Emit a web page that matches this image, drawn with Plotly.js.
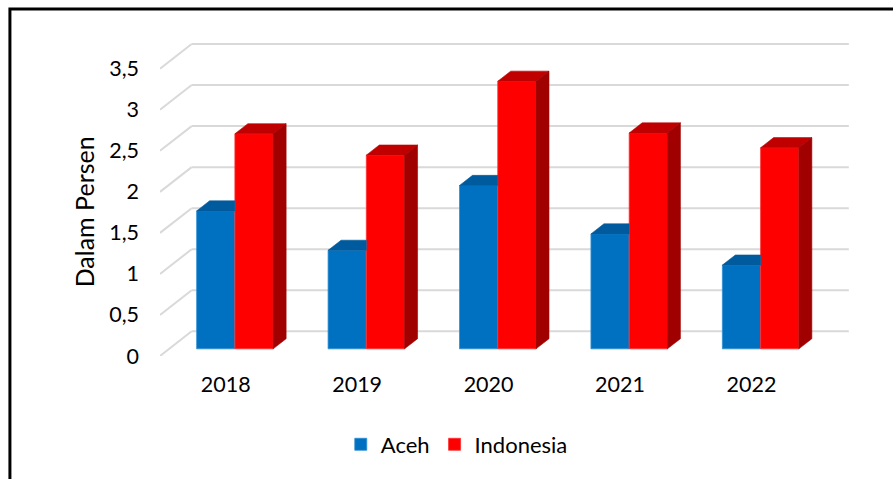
<!DOCTYPE html>
<html>
<head>
<meta charset="utf-8">
<script src="https://cdn.plot.ly/plotly-3.0.1.min.js"></script>
<style>html,body{margin:0;padding:0;background:#fff;}#chart{width:893px;height:479px;}</style>
</head>
<body>
<div id="chart"></div>
<script>
// ---- data ----
const years = ['2018', '2019', '2020', '2021', '2022'];
const aceh = [1.68, 1.20, 1.99, 1.40, 1.02];
const indonesia = [2.62, 2.36, 3.26, 2.63, 2.45];
const yTickVals = [0, 0.5, 1, 1.5, 2, 2.5, 3, 3.5];
const yTickText = ['0', '0,5', '1', '1,5', '2', '2,5', '3', '3,5'];
const yTitle = 'Dalam Persen';

// ---- oblique 3D projection settings (styling) ----
const KX = 0.241, KY = 0.301;   // full wall depth shift in axis units
const Z1 = 0.29, Z2 = 0.70;     // bar front / back depth
const W = 0.291;                // bar width
const FONT = 'Lato, "Open Sans", sans-serif';

const idx = years.map((_, i) => i);
const fx = Z1 * KX, fy = Z1 * KY;
const dx = (Z2 - Z1) * KX, dy = (Z2 - Z1) * KY;

const traces = [];
// front faces as real bar traces
traces.push({
  type: 'bar', name: 'Aceh', x: idx.map(i => i + fx), y: aceh, base: fy,
  width: W, offset: -W, marker: {color: '#0070c0', line: {width: 0.8, color: '#2f8fd6'}},
  hoverinfo: 'skip'
});
traces.push({
  type: 'bar', name: 'Indonesia', x: idx.map(i => i + fx), y: indonesia, base: fy,
  width: W, offset: 0, marker: {color: '#ff0000', line: {width: 0.8, color: '#ff3030'}},
  hoverinfo: 'skip'
});

function poly(xs, ys, color) {
  return {type: 'scatter', mode: 'lines', x: xs.concat([xs[0]]), y: ys.concat([ys[0]]),
    fill: 'toself', fillcolor: color, line: {color: color, width: 0.6},
    hoverinfo: 'skip', showlegend: false};
}
// top faces of Aceh (clipped where Indonesia front face covers)
idx.forEach(i => {
  const v = aceh[i] + fy;
  const x0 = i + fx - W, x1 = i + fx;
  traces.push(poly([x0, x1, x1, x0 + dx], [v, v, v + dy, v + dy], '#005a9e'));
});
// top + side faces of Indonesia
idx.forEach(i => {
  const v = indonesia[i] + fy;
  const x0 = i + fx, x1 = i + fx + W;
  traces.push(poly([x0, x1, x1 + dx, x0 + dx], [v, v, v + dy, v + dy], '#c00000'));
  traces.push(poly([x1, x1 + dx, x1 + dx, x1], [fy, fy + dy, v + dy, v], '#a00000'));
});

// gridlines: back wall lines + left-wall diagonals
const shapes = [];
const xL = -0.5, xR = 4.5;
yTickVals.forEach(v => {
  shapes.push({type: 'line', xref: 'x', yref: 'y', layer: 'below',
    x0: xL + KX, x1: xR + KX, y0: v + KY, y1: v + KY, line: {color: '#d9d9d9', width: 2}});
  shapes.push({type: 'line', xref: 'x', yref: 'y', layer: 'below',
    x0: xL, x1: xL + KX, y0: v, y1: v + KY, line: {color: '#d9d9d9', width: 2}});
});
// outer chart border
shapes.push({type: 'rect', xref: 'paper', yref: 'paper', layer: 'above',
  x0: -0.2175, x1: 1.08, y0: -0.42, y1: 1.098, line: {color: '#000', width: 3}});

const layout = {
  width: 893, height: 479,
  margin: {l: 160, r: 43, t: 40, b: 123},
  paper_bgcolor: '#fff', plot_bgcolor: '#fff',
  barmode: 'overlay',
  font: {family: FONT, size: 21, color: '#000'},
  xaxis: {
    range: [-0.5, 4.75], tickvals: idx, ticktext: years,
    showgrid: false, zeroline: false, showline: false, ticks: '',
    ticklabelstandoff: 13, tickfont: {family: FONT, size: 21.5, color: '#000'}
  },
  yaxis: {
    range: [0, 3.85], tickvals: yTickVals, ticktext: yTickText,
    showgrid: false, zeroline: false, showline: false, ticks: '',
    ticklabelstandoff: 20, tickfont: {family: FONT, size: 21.5, color: '#000'}
  },
  annotations: [{
    text: yTitle, textangle: -90, xref: 'paper', yref: 'paper',
    x: -0.110, y: 0.455, xanchor: 'center', yanchor: 'middle', showarrow: false,
    font: {family: FONT, size: 25, color: '#000'}
  }],
  showlegend: true,
  legend: {orientation: 'h', x: 0.262, xanchor: 'left', y: -0.28, yanchor: 'middle',
    font: {family: FONT, size: 22, color: '#000'}, bgcolor: 'rgba(0,0,0,0)'},
  shapes: shapes
};

Plotly.newPlot('chart', traces, layout, {displayModeBar: false, staticPlot: true});
</script>
</body>
</html>
